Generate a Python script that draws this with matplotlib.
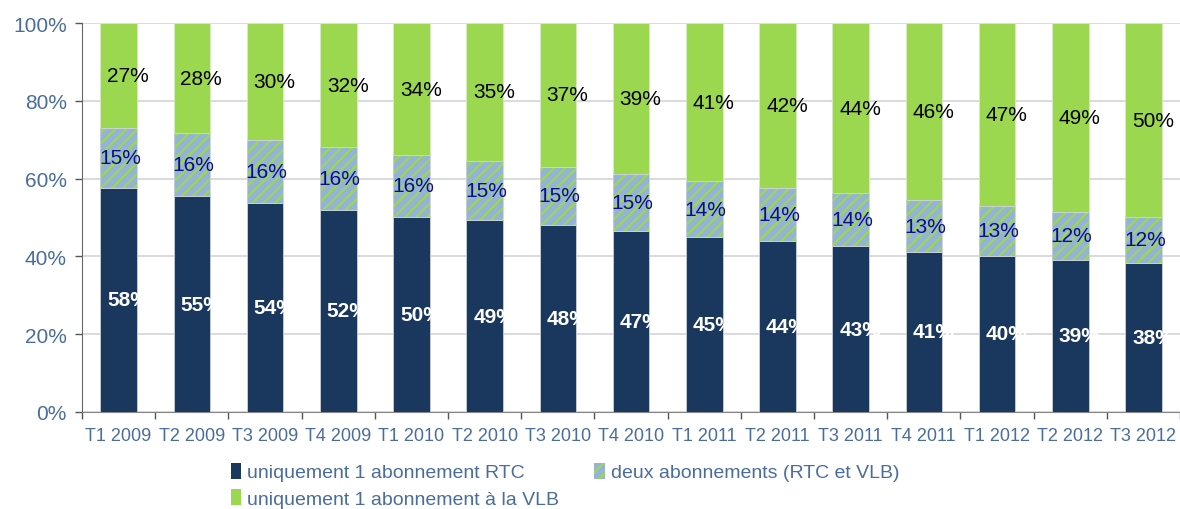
import matplotlib
matplotlib.use("Agg")
import matplotlib.pyplot as plt
import numpy as np
from matplotlib.patches import Patch

categories = ["T1 2009", "T2 2009", "T3 2009", "T4 2009", "T1 2010", "T2 2010", "T3 2010",
              "T4 2010", "T1 2011", "T2 2011", "T3 2011", "T4 2011", "T1 2012", "T2 2012", "T3 2012"]
rtc_only = [57.6, 55.4, 53.8, 52.0, 50.2, 49.3, 48.0, 46.6, 45.0, 43.9, 42.6, 41.2, 40.2, 39.2, 38.4]
both = [15.4, 16.2, 16.1, 16.1, 15.8, 15.3, 15.1, 14.6, 14.3, 13.8, 13.6, 13.2, 12.7, 12.2, 11.7]
vlb_only = [27.0, 28.4, 30.1, 31.9, 34.0, 35.4, 36.9, 38.8, 40.7, 42.3, 43.8, 45.6, 47.1, 48.6, 49.9]
series_names = ["uniquement 1 abonnement RTC", "deux abonnements (RTC et VLB)", "uniquement 1 abonnement à la VLB"]

DARK = "#1a375e"
BLUE = "#95b3d7"
GREEN = "#9bd84f"
TICK = "#4a6d9c"

plt.rcParams['font.family'] = ['Liberation Sans', 'DejaVu Sans']
plt.rcParams['hatch.linewidth'] = 1.6

fig = plt.figure(figsize=(11.8, 5.1), dpi=100)
ax = fig.add_axes([82/1180, 1-413/510, 1-82/1180, (413-24)/510])

x = np.arange(len(categories))
r = np.array(rtc_only) / 100
b = np.array(both) / 100
v = np.array(vlb_only) / 100
w = 0.5

ax.bar(x, r, w, color=DARK, edgecolor="#c8d0da", linewidth=0.6, zorder=3)
ax.bar(x, b, w, bottom=r, color=BLUE, edgecolor=GREEN, linewidth=0, hatch="///", zorder=3)
ax.bar(x, b, w, bottom=r, fill=False, edgecolor="#c8d0da", linewidth=0.6, zorder=4)
ax.bar(x, v, w, bottom=r + b, color=GREEN, edgecolor="#d8ecc0", linewidth=0.6, zorder=3)

off = 0.13
for i in range(len(x)):
    ax.text(x[i] + off, r[i] / 2, f"{rtc_only[i]:.0f}%", ha="center", va="center",
            color="white", fontsize=15, fontweight="bold", zorder=5)
    ax.text(x[i] + 0.02, r[i] + b[i] / 2, f"{both[i]:.0f}%", ha="center", va="center",
            color="#0d0d8a", fontsize=15, zorder=5)
    ax.text(x[i] + off, r[i] + b[i] + v[i] / 2, f"{vlb_only[i]:.0f}%", ha="center", va="center",
            color="black", fontsize=15, zorder=5)

ax.set_xlim(-0.5, len(x) - 0.5)
ax.set_ylim(0, 1)
ax.set_yticks(np.arange(0, 1.01, 0.2))
ax.set_yticklabels([f"{int(t*100)}%" for t in np.arange(0, 1.01, 0.2)])
ax.tick_params(axis="y", colors=TICK, labelsize=15, length=5, width=1, direction="out", pad=6)
ax.tick_params(axis="y", which="major", color="#555555")
ax.set_xticks(x)
ax.set_xticklabels(categories)
ax.tick_params(axis="x", which="major", length=0, labelsize=13, labelcolor=TICK, pad=11)
ax.set_xticks(np.arange(-0.5, len(x), 1), minor=True)
ax.tick_params(axis="x", which="minor", length=5, color="#555555", width=1)

ax.grid(axis="y", color="#d4d4d4", linewidth=1.2, zorder=0)
ax.set_axisbelow(True)
for s in ["top", "right"]:
    ax.spines[s].set_visible(False)
ax.spines["left"].set_color("#666666")
ax.spines["bottom"].set_color("#888888")

handles = [Patch(facecolor=DARK, edgecolor="none"),
           Patch(facecolor=BLUE, edgecolor=GREEN, hatch="///", linewidth=0),
           Patch(facecolor=GREEN, edgecolor="none")]
# column-wise filling: col1 = RTC, VLB ; col2 = deux
leg = fig.legend([handles[0], handles[2], handles[1]],
                 [series_names[0], series_names[2], series_names[1]],
                 loc="upper left", bbox_to_anchor=(221/1180, 1-454/510), ncol=2, frameon=False,
                 fontsize=14, handlelength=0.55, handleheight=0.9, handletextpad=0.3,
                 columnspacing=1.8, labelspacing=0.4, borderpad=0)
for t in leg.get_texts():
    t.set_color(TICK)

fig.savefig("out.png", dpi=100)
